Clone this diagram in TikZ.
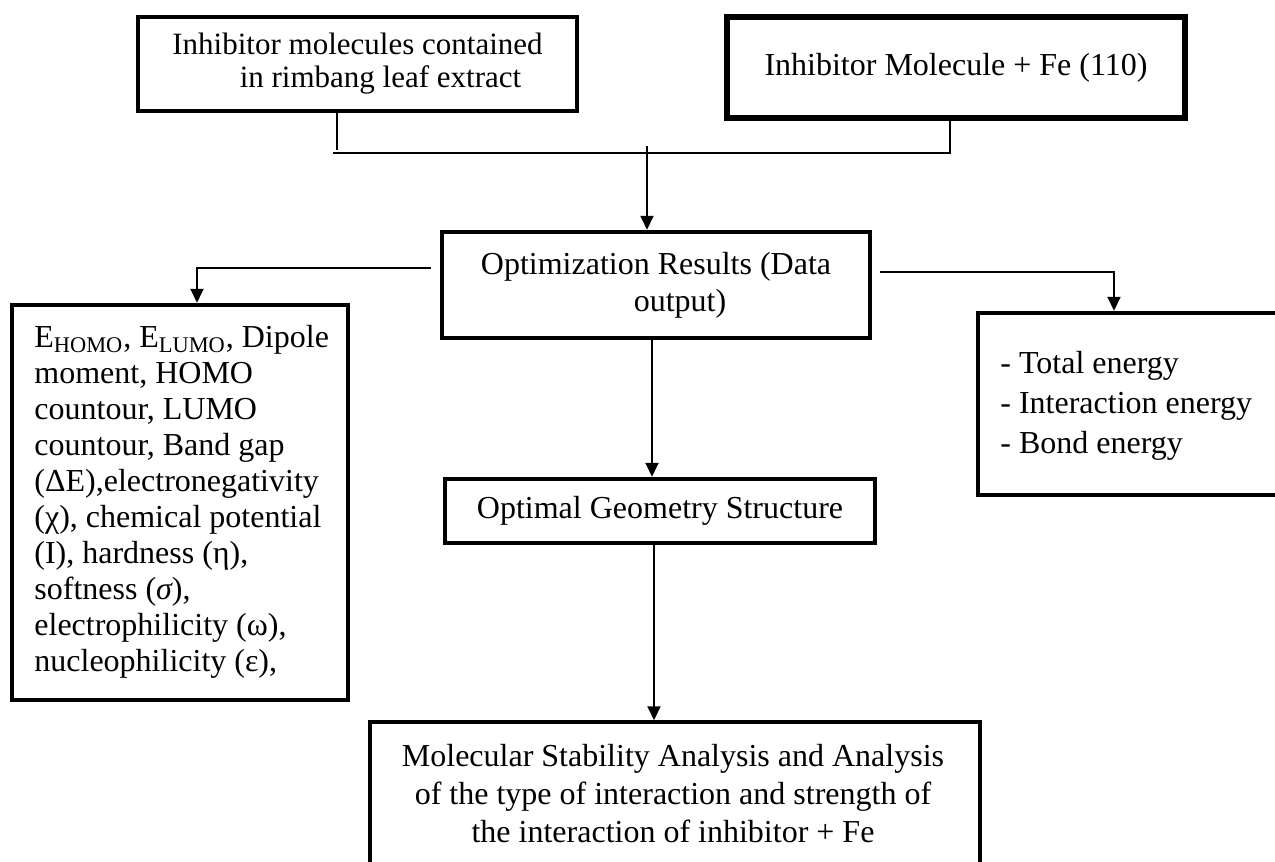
\documentclass[tikz,border=0pt]{standalone}
\usepackage{fontspec}
\setmainfont{Liberation Serif}
\usetikzlibrary{arrows.meta}
\begin{document}
\begin{tikzpicture}[x=0.5pt,y=-0.5pt,
 box/.style={draw, line width=2.25pt, inner sep=0pt, align=center, font=\fontsize{16pt}{18.5pt}\selectfont},
 txt/.style={inner sep=0pt, align=left, font=\fontsize{16pt}{18pt}\selectfont},
 conn/.style={line width=1pt},
 arr/.style={line width=1pt, -{Triangle[length=7pt,width=6.5pt]}}]
\useasboundingbox (0,0) rectangle (1275,862);
\clip (0,0) rectangle (1275,862);

\node[box, minimum width=219.5pt, minimum height=47pt, font=\fontsize{15.5pt}{16.5pt}\selectfont] (A) at (357.5,64)
  {Inhibitor molecules contained\\\hspace*{23pt}in rimbang leaf extract};
\node[box, line width=2.75pt, minimum width=229pt, minimum height=50.5pt] (B) at (956,67.5)
  {Inhibitor Molecule + Fe (110)};
\node[box, minimum width=214pt, minimum height=53pt] (O) at (656,285)
  {Optimization Results (Data\\\hspace*{24pt}output)};
\node[box, minimum width=168pt, minimum height=197.5pt] (L) at (180,502.5) {};
\node[txt, anchor=north west] (Lt) at (34,325)
  {E\textsubscript{HOMO}, E\textsubscript{LUMO}, Dipole\\
   moment, HOMO\\
   countour, LUMO\\
   countour, Band gap\\
   (ΔE),electronegativity\\
   (χ), chemical potential\\
   (I), hardness (η),\\
   softness ({\itshape σ}),\\
   electrophilicity (ω),\\
   nucleophilicity (ε),};
\node[box, minimum width=171pt, minimum height=91pt] (R) at (1149,404) {};
\node[txt, anchor=north west, font=\fontsize{16pt}{20pt}\selectfont] (Rt) at (1000,351)
  {- Total energy\\- Interaction energy\\- Bond energy};
\node[box, minimum width=215pt, minimum height=32pt] (G) at (660,511) {Optimal Geometry Structure};
\node[box, line width=1.75pt, minimum width=305pt, minimum height=89pt] (M) at (675,811) {};
\node[txt, align=center, font=\fontsize{16pt}{19pt}\selectfont] (Mt) at (673,794)
  {Molecular Stability Analysis and Analysis\\of the type of interaction and strength of\\the interaction of inhibitor + Fe};

\coordinate (j0) at (333,153);
\coordinate (j1) at (337,150);
\coordinate (j2) at (950,153);
\coordinate (j3) at (647,146);
\coordinate (lc) at (197,268);
\coordinate (rc) at (1114,272);
\coordinate (c4) at (652,400);
\coordinate (c5) at (654,600);

\draw[conn] (A.south -| j1) -- (j1);
\draw[conn] (j0) -- (j2) -- (B.south -| j2);
\draw[arr] (j3) -- (O.north -| j3);
\draw[arr, shorten <=4.5pt] (O.west |- lc) -- (lc) -- (L.north -| lc);
\draw[arr, shorten <=4pt] (O.east |- rc) -- (rc) -- (R.north -| rc);
\draw[arr] (O.south -| c4) -- (G.north -| c4);
\draw[arr] (G.south -| c5) -- (M.north -| c5);
\end{tikzpicture}
\end{document}
